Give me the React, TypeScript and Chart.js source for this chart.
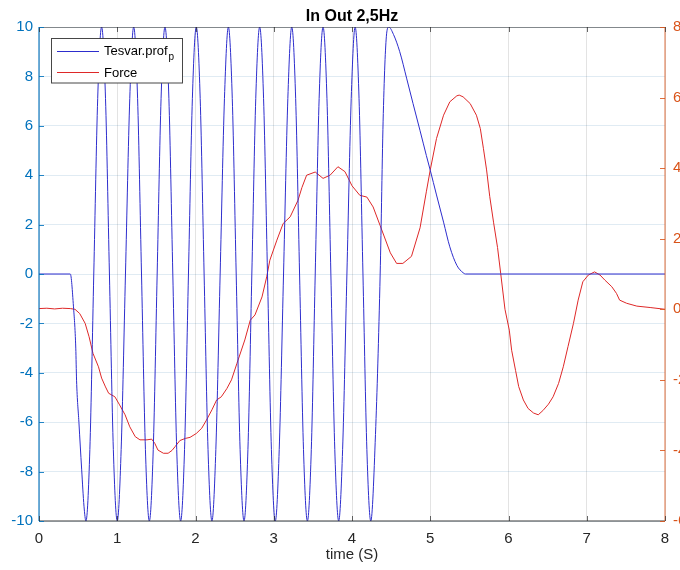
import React, { useEffect, useRef } from 'react';
import { Chart, registerables } from 'chart.js';

Chart.register(...registerables);

// Tesvar.prof_p (left axis): time stamps and values
const profTime = [
  0.0, 0.4, 0.44, 0.47, 0.48, 0.51, 0.545, 0.575, 0.6,
  0.65, 0.7, 0.75, 0.8,
  0.85, 0.9, 0.95, 1.0,
  1.05, 1.105, 1.16, 1.21,
  1.26, 1.31, 1.36, 1.41,
  1.46, 1.51, 1.56, 1.61,
  1.66, 1.71, 1.76, 1.81,
  1.86, 1.91, 1.96, 2.01,
  2.06, 2.11, 2.16, 2.21,
  2.26, 2.315, 2.37, 2.42,
  2.47, 2.52, 2.57, 2.62,
  2.67, 2.72, 2.77, 2.82,
  2.87, 2.92, 2.97, 3.02,
  3.07, 3.125, 3.18, 3.23,
  3.28, 3.33, 3.38, 3.43,
  3.48, 3.53, 3.58, 3.63,
  3.68, 3.73, 3.78, 3.83,
  3.88, 3.935, 3.99, 4.04,
  4.09, 4.14, 4.19, 4.24,
  4.3, 4.36, 4.4, 4.445, 4.47,
  4.53, 4.61, 4.7, 4.78, 4.87, 4.95, 5.0, 5.08, 5.17, 5.25, 5.34, 5.42, 5.45,
  8.0,
];
const profValue = [
  0, 0, -1.3, -3.0, -4.3, -6.0, -7.9, -9.4, -10,
  -7.1, 0, 7.1, 10,
  7.1, 0, -7.1, -10,
  -7.1, 0, 7.1, 10,
  7.1, 0, -7.1, -10,
  -7.1, 0, 7.1, 10,
  7.1, 0, -7.1, -10,
  -7.1, 0, 7.1, 10,
  7.1, 0, -7.1, -10,
  -7.1, 0, 7.1, 10,
  7.1, 0, -7.1, -10,
  -7.1, 0, 7.1, 10,
  7.1, 0, -7.1, -10,
  -7.1, 0, 7.1, 10,
  7.1, 0, -7.1, -10,
  -7.1, 0, 7.1, 10,
  7.1, 0, -7.1, -10,
  -7.1, 0, 7.1, 10,
  7.1, 0, -7.1, -10,
  -6.5, 0, 6.5, 9.8, 10,
  9.7, 9.0, 7.9, 6.9, 5.8, 4.8, 4.2, 3.2, 2.1, 1.1, 0.35, 0.05, 0,
  0,
];

// Force (right axis)
const forceTime = [
  0.0, 0.1, 0.2, 0.3, 0.4, 0.46, 0.52, 0.59, 0.64, 0.69, 0.76, 0.8, 0.85, 0.89, 0.97,
  1.03, 1.1, 1.16, 1.23, 1.29, 1.38, 1.44, 1.48, 1.52, 1.59, 1.65, 1.7, 1.74, 1.8, 1.87, 1.93,
  2.01, 2.08, 2.14, 2.21, 2.27, 2.33, 2.4, 2.46, 2.53, 2.63, 2.7, 2.76, 2.85, 2.91, 2.95,
  3.04, 3.12, 3.21, 3.31, 3.36, 3.42, 3.53, 3.63, 3.72, 3.82, 3.91,
  4.0, 4.1, 4.19, 4.27, 4.36, 4.49, 4.57, 4.65, 4.76, 4.87, 4.95,
  5.0, 5.08, 5.17, 5.25, 5.34, 5.37, 5.42, 5.51, 5.59, 5.64, 5.68, 5.72, 5.76, 5.81, 5.86, 5.9, 5.955,
  6.01, 6.04, 6.09, 6.13, 6.19, 6.25, 6.32, 6.38, 6.44, 6.51, 6.57, 6.64, 6.7, 6.76, 6.83, 6.89, 6.95,
  7.02, 7.1, 7.17, 7.23, 7.32, 7.38, 7.42, 7.51, 7.64, 7.81, 8.0,
];
const forceValue = [
  0.02, 0.03, 0.01, 0.03, 0.02, 0.0, -0.12, -0.4, -0.78, -1.25, -1.63, -1.95, -2.2, -2.38, -2.48,
  -2.71, -2.99, -3.33, -3.61, -3.7, -3.7, -3.68, -3.8, -3.99, -4.08, -4.08, -4.0, -3.89, -3.72, -3.66, -3.63,
  -3.52, -3.37, -3.14, -2.85, -2.57, -2.48, -2.25, -2.0, -1.53, -0.87, -0.31, -0.16, 0.35, 0.92, 1.39,
  1.96, 2.43, 2.62, 3.09, 3.45, 3.8, 3.89, 3.71, 3.8, 4.04, 3.9,
  3.5, 3.23, 3.18, 2.9, 2.37, 1.6, 1.3, 1.3, 1.5, 2.31, 3.33,
  3.95, 4.84, 5.5, 5.88, 6.05, 6.07, 6.02, 5.83, 5.5, 5.12, 4.55, 3.95, 3.2, 2.45, 1.75, 1.02, 0.0,
  -0.59, -1.16, -1.73, -2.19, -2.57, -2.81, -2.94, -2.99, -2.87, -2.69, -2.48, -2.1, -1.63, -1.06, -0.4, 0.26, 0.78,
  0.97, 1.06, 0.97, 0.83, 0.64, 0.45, 0.26, 0.17, 0.09, 0.05, 0.0,
];

// Axis ranges and tick steps
const xTicks = [0, 1, 2, 3, 4, 5, 6, 7, 8];
const leftTicks = [-10, -8, -6, -4, -2, 0, 2, 4, 6, 8, 10];
const rightTicks = [-6, -4, -2, 0, 2, 4, 6, 8];

const TITLE = 'In Out 2,5Hz';
const X_LABEL = 'time (S)';
const LEGEND_MAIN = 'Tesvar.prof';
const LEGEND_SUB = 'p';
const LEGEND_FORCE = 'Force';

const FONT = '"Liberation Sans", Arial, Helvetica, sans-serif';
const BLUE_LINE = 'rgb(45,45,205)';
const RED_LINE = 'rgb(222,40,40)';
const LEFT_COLOR = '#0072BD';
const RIGHT_COLOR = '#D95319';
const DARK = '#262626';

const decorations = {
  id: 'matlabDecor',
  afterDatasetsDraw(chart: any) {
    const { ctx, chartArea } = chart;
    const { left, right, top, bottom } = chartArea;
    const xs = chart.scales.x;
    const yl = chart.scales.y;
    const yr = chart.scales.y1;
    ctx.save();

    // frame
    ctx.lineWidth = 1;
    ctx.strokeStyle = 'rgba(38,38,38,0.5)';
    ctx.beginPath();
    ctx.moveTo(left, top + 0.5);
    ctx.lineTo(right, top + 0.5);
    ctx.stroke();
    ctx.lineWidth = 2;
    ctx.strokeStyle = 'rgba(38,38,38,0.45)';
    ctx.beginPath();
    ctx.moveTo(left, bottom);
    ctx.lineTo(right, bottom);
    ctx.stroke();
    ctx.lineWidth = 1.5;
    ctx.strokeStyle = 'rgba(0,114,189,0.75)';
    ctx.beginPath();
    ctx.moveTo(left, top);
    ctx.lineTo(left, bottom);
    ctx.stroke();
    ctx.strokeStyle = 'rgba(217,83,25,0.55)';
    ctx.beginPath();
    ctx.moveTo(right, top);
    ctx.lineTo(right, bottom);
    ctx.stroke();

    // inward tick marks
    ctx.lineWidth = 1;
    ctx.strokeStyle = 'rgba(38,38,38,0.7)';
    xTicks.forEach((v) => {
      const px = Math.round(xs.getPixelForValue(v)) + 0.5;
      ctx.beginPath();
      ctx.moveTo(px, bottom);
      ctx.lineTo(px, bottom - 5);
      ctx.moveTo(px, top);
      ctx.lineTo(px, top + 5);
      ctx.stroke();
    });
    ctx.strokeStyle = 'rgba(0,114,189,0.85)';
    leftTicks.forEach((v) => {
      const py = Math.round(yl.getPixelForValue(v)) + 0.5;
      ctx.beginPath();
      ctx.moveTo(left, py);
      ctx.lineTo(left + 5, py);
      ctx.stroke();
    });
    ctx.strokeStyle = 'rgba(217,83,25,0.85)';
    rightTicks.forEach((v) => {
      const py = Math.round(yr.getPixelForValue(v)) + 0.5;
      ctx.beginPath();
      ctx.moveTo(right, py);
      ctx.lineTo(right - 5, py);
      ctx.stroke();
    });

    // title and x label
    ctx.fillStyle = '#000';
    ctx.textAlign = 'center';
    ctx.textBaseline = 'alphabetic';
    ctx.font = `bold 16px ${FONT}`;
    ctx.fillText(TITLE, (left + right) / 2, 21);
    ctx.fillStyle = DARK;
    ctx.font = `15px ${FONT}`;
    ctx.fillText(X_LABEL, (left + right) / 2, 559);

    // legend
    const bx = 51.5;
    const by = 38.5;
    const bw = 131;
    const bh = 44.5;
    ctx.fillStyle = '#fff';
    ctx.fillRect(bx, by, bw, bh);
    ctx.strokeStyle = 'rgba(38,38,38,0.85)';
    ctx.lineWidth = 1;
    ctx.strokeRect(bx, by, bw, bh);
    ctx.lineWidth = 1;
    ctx.strokeStyle = BLUE_LINE;
    ctx.beginPath();
    ctx.moveTo(57, 51.5);
    ctx.lineTo(99, 51.5);
    ctx.stroke();
    ctx.strokeStyle = RED_LINE;
    ctx.beginPath();
    ctx.moveTo(57, 72.5);
    ctx.lineTo(99, 72.5);
    ctx.stroke();
    ctx.textAlign = 'left';
    ctx.fillStyle = '#000';
    ctx.font = `13px ${FONT}`;
    ctx.fillText(LEGEND_MAIN, 104, 55);
    const w = ctx.measureText(LEGEND_MAIN).width;
    ctx.font = `10px ${FONT}`;
    ctx.fillText(LEGEND_SUB, 104 + w + 1, 60);
    ctx.font = `13px ${FONT}`;
    ctx.fillText(LEGEND_FORCE, 104, 77);

    ctx.restore();
  },
};

export default function App() {
  const canvasRef = useRef<HTMLCanvasElement | null>(null);

  useEffect(() => {
    const canvas = canvasRef.current;
    if (!canvas) return;
    const profPoints = profTime.map((t, i) => ({ x: t, y: profValue[i] }));
    const forcePoints = forceTime.map((t, i) => ({ x: t, y: forceValue[i] }));

    const chart = new Chart(canvas, {
      type: 'line',
      data: {
        datasets: [
          {
            label: 'Tesvar.prof_p',
            data: profPoints,
            yAxisID: 'y',
            borderColor: BLUE_LINE,
            borderWidth: 1,
            pointRadius: 0,
            cubicInterpolationMode: 'monotone',
            fill: false,
          },
          {
            label: LEGEND_FORCE,
            data: forcePoints,
            yAxisID: 'y1',
            borderColor: RED_LINE,
            borderWidth: 1,
            pointRadius: 0,
            tension: 0,
            fill: false,
          },
        ],
      },
      options: {
        animation: false,
        responsive: false,
        events: [],
        layout: { padding: { top: 27, left: 0, right: 0, bottom: 0 } },
        plugins: {
          legend: { display: false },
          title: { display: false },
          tooltip: { enabled: false },
        },
        scales: {
          x: {
            type: 'linear',
            min: 0,
            max: 8,
            ticks: {
              stepSize: 1,
              padding: 9,
              color: DARK,
              font: { family: FONT, size: 15 },
              maxRotation: 0,
            },
            grid: { color: 'rgba(38,38,38,0.13)', drawTicks: false, lineWidth: 1 },
            border: { display: false },
            afterFit: (s: any) => {
              s.height = 49;
            },
          },
          y: {
            type: 'linear',
            position: 'left',
            min: -10,
            max: 10,
            ticks: {
              stepSize: 2,
              padding: 6,
              color: LEFT_COLOR,
              font: { family: FONT, size: 15 },
            },
            grid: { color: 'rgba(0,90,160,0.12)', drawTicks: false, lineWidth: 1 },
            border: { display: false },
            afterFit: (s: any) => {
              s.width = 39;
            },
          },
          y1: {
            type: 'linear',
            position: 'right',
            min: -6,
            max: 8,
            ticks: {
              stepSize: 2,
              padding: 8,
              color: RIGHT_COLOR,
              font: { family: FONT, size: 15 },
            },
            grid: { display: false, drawTicks: false },
            border: { display: false },
            afterFit: (s: any) => {
              s.width = 15;
            },
          },
        },
      },
      plugins: [decorations],
    });

    return () => chart.destroy();
  }, []);

  return (
    <div style={{ position: 'absolute', left: 0, top: 0, width: 680, height: 570, background: '#fff' }}>
      <canvas ref={canvasRef} width={680} height={570} style={{ display: 'block' }} />
    </div>
  );
}
